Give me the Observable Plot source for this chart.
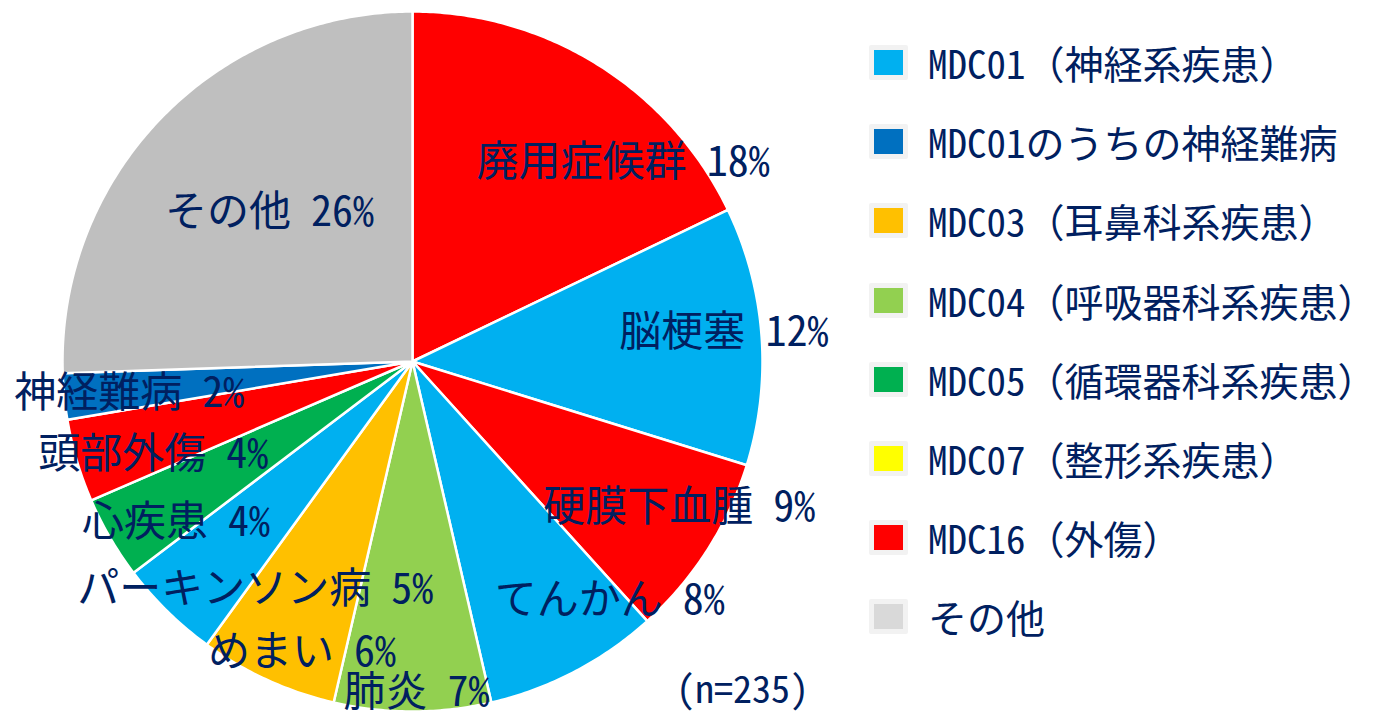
<!DOCTYPE html>
<html><head><meta charset="utf-8">
<script src="https://cdn.jsdelivr.net/npm/d3@7"></script>
<script src="https://cdn.jsdelivr.net/npm/@observablehq/plot@0.6"></script>
<style>
html,body{margin:0;padding:0;background:#fff;}
#wrap{position:relative;width:1378px;height:713px;overflow:hidden;font-family:"Noto Sans Mono CJK JP","Noto Sans CJK JP",sans-serif;color:#002060;}
#chart{position:absolute;left:0;top:0;}
.item{position:absolute;left:869px;display:flex;align-items:center;height:35px;}
.sw{box-sizing:content-box;width:29px;height:25px;border:5px solid #F2F2F2;border-radius:2px;flex:none;}
.lt{margin-left:20px;font-size:39px;line-height:1;white-space:nowrap;}
#n{position:absolute;left:676px;top:668px;font-size:38px;line-height:1;white-space:nowrap;}
</style></head>
<body><div id="wrap"><div id="chart"></div><div id="legend"></div><div id="n"></div></div>
<script>
// ---- data ----
const names = ["廃用症候群","脳梗塞","硬膜下血腫","てんかん","肺炎","めまい","パーキンソン病","心疾患","頭部外傷","神経難病","その他"];
const counts = [42,28,20,19,17,15,11,9,9,5,60];
const pctLabels = ["18%","12%","9%","8%","7%","6%","5%","4%","4%","2%","26%"];
const groups = ["MDC16","MDC01","MDC16","MDC01","MDC04","MDC03","MDC01","MDC05","MDC16","MDC01難病","その他"];
const legendKeys = ["MDC01","MDC01難病","MDC03","MDC04","MDC05","MDC07","MDC16","その他"];
const legendLabels = ["MDC01（神経系疾患）","MDC01のうちの神経難病","MDC03（耳鼻科系疾患）","MDC04（呼吸器科系疾患）","MDC05（循環器科系疾患）","MDC07（整形系疾患）","MDC16（外傷）","その他"];
const palette = ["#00B0F0","#0070C0","#FFC000","#92D050","#00B050","#FFFF00","#FF0000","#BFBFBF"];
const legendSwatch = ["#00B0F0","#0070C0","#FFC000","#92D050","#00B050","#FFFF00","#FF0000","#D9D9D9"];
const nTotal = "(n=235)";

// ---- layout (label nudges in px from 0.65r along mid-angle) ----
const labelNudge = [[163,-6],[116,-12],[159,24],[155,37],[25,104],[26,84],[128,66],[2,46],[22,29],[6,9],[52,9]];
const R = 350, cx = 412, cy = 361;
const font = '"Noto Sans Mono CJK JP","Noto Sans CJK JP",sans-serif';

const arcs = d3.pie().value(d => d).sort(null)(counts);
const slices = [];
const labels = [];
arcs.forEach((p, i) => {
  const n = Math.max(2, Math.ceil((p.endAngle - p.startAngle) / 0.01));
  slices.push({name: names[i], group: groups[i], x: 0, y: 0});
  for (let k = 0; k <= n; k++) {
    const a = p.startAngle + (p.endAngle - p.startAngle) * k / n;
    slices.push({name: names[i], group: groups[i], x: Math.sin(a), y: Math.cos(a)});
  }
  slices.push({name: names[i], group: groups[i], x: 0, y: 0});
  const m = (p.startAngle + p.endAngle) / 2;
  labels.push({
    name: names[i], pct: pctLabels[i],
    x: 0.65 * Math.sin(m) + labelNudge[i][0] / R,
    y: 0.65 * Math.cos(m) - labelNudge[i][1] / R
  });
});

const chart = Plot.plot({
  width: 1378, height: 713, margin: 0,
  x: {domain: [-1, 1], range: [cx - R, cx + R], axis: null},
  y: {domain: [-1, 1], range: [cy + R, cy - R], axis: null},
  color: {domain: legendKeys, range: palette},
  style: {fontFamily: font, background: "transparent", overflow: "visible"},
  marks: [
    Plot.line(slices, {x: "x", y: "y", z: "name", fill: "group", stroke: "white", strokeWidth: 2.5, strokeLinejoin: "round"}),
    Plot.text(labels, {x: "x", y: "y", text: "name", textAnchor: "end", dx: -10, fontSize: 42, fill: "#002060"}),
    Plot.text(labels, {x: "x", y: "y", text: "pct", textAnchor: "start", dx: 10, fontSize: 42, fill: "#002060"})
  ]
});
document.getElementById("chart").appendChild(chart);

const leg = document.getElementById("legend");
legendLabels.forEach((t, i) => {
  const row = document.createElement("div");
  row.className = "item";
  row.style.top = (62.5 + i * 79.2 - 17.5) + "px";
  const sw = document.createElement("div");
  sw.className = "sw";
  sw.style.background = legendSwatch[i];
  const lt = document.createElement("div");
  lt.className = "lt";
  lt.textContent = t;
  row.appendChild(sw); row.appendChild(lt);
  leg.appendChild(row);
});
document.getElementById("n").textContent = nTotal;
</script>
</body></html>
